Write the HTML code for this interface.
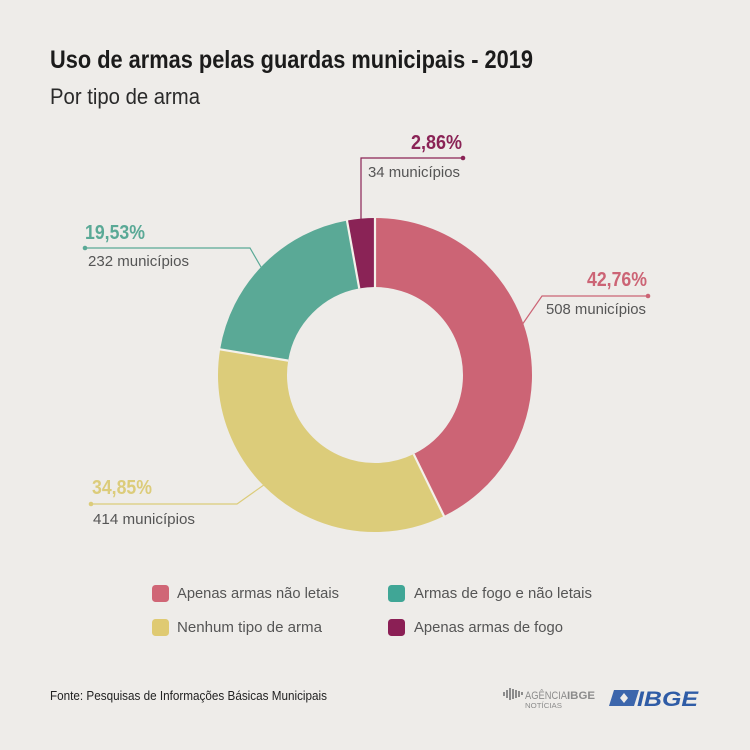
<!DOCTYPE html>
<html><head><meta charset="utf-8"><style>
html,body{margin:0;padding:0;background:#eeece9;}
svg{display:block;}
</style></head><body>
<svg width="750" height="750" viewBox="0 0 750 750" xmlns="http://www.w3.org/2000/svg">
<rect width="750" height="750" fill="#eeece9"/>
<text x="50" y="68" font-family="'Liberation Sans Narrow','Liberation Sans',sans-serif" font-weight="bold" font-size="25" fill="#1b1b1b" textLength="483" lengthAdjust="spacingAndGlyphs">Uso de armas pelas guardas municipais - 2019</text>
<text x="50" y="104" font-family="'Liberation Sans Narrow','Liberation Sans',sans-serif" font-size="22" fill="#2a2a2a" textLength="150" lengthAdjust="spacingAndGlyphs">Por tipo de arma</text>

<!-- leader lines -->
<g fill="none" stroke-width="1.2">
<polyline points="361,222 361,158 463,158" stroke="#8a2356"/>
<polyline points="515,335 542,296 648,296" stroke="#cc6475"/>
<polyline points="85,248 250,248 265,274" stroke="#5aa996"/>
<polyline points="91,504 237,504 268,482" stroke="#dccc7a"/>
</g>
<circle cx="463" cy="158" r="2.3" fill="#8a2356"/>
<circle cx="648" cy="296" r="2.3" fill="#cc6475"/>
<circle cx="85" cy="248" r="2.3" fill="#5aa996"/>
<circle cx="91" cy="504" r="2.3" fill="#dccc7a"/>

<!-- donut -->
<g transform="rotate(-90 375 375)" fill="none" stroke-width="69">
<circle cx="375" cy="375" r="122.5" stroke="#cc6475" stroke-dasharray="329.12 769.69" stroke-dashoffset="0"/>
<circle cx="375" cy="375" r="122.5" stroke="#dccc7a" stroke-dasharray="268.24 769.69" stroke-dashoffset="-329.12"/>
<circle cx="375" cy="375" r="122.5" stroke="#5aa996" stroke-dasharray="150.32 769.69" stroke-dashoffset="-597.36"/>
<circle cx="375" cy="375" r="122.5" stroke="#8a2356" stroke-dasharray="22.01 769.69" stroke-dashoffset="-747.68"/>
</g>
<g stroke="#f4f1ea" stroke-width="2.2">
<line x1="375" y1="288" x2="375" y2="217"/>
<line x1="413.67" y1="454.05" x2="444.4" y2="516.9"/>
<line x1="288.18" y1="360.63" x2="219.1" y2="349.2"/>
<line x1="359.26" y1="288.42" x2="346.8" y2="219.6"/>
</g>

<!-- labels -->
<g font-family="'Liberation Sans Narrow','Liberation Sans',sans-serif" font-weight="bold" font-size="20">
<text x="411" y="149" fill="#8a2356" textLength="51" lengthAdjust="spacingAndGlyphs">2,86%</text>
<text x="587" y="286" fill="#cc6475" textLength="60" lengthAdjust="spacingAndGlyphs">42,76%</text>
<text x="85" y="239" fill="#5aa996" textLength="60" lengthAdjust="spacingAndGlyphs">19,53%</text>
<text x="92" y="494" fill="#dccc7a" textLength="60" lengthAdjust="spacingAndGlyphs">34,85%</text>
</g>
<g font-family="'Liberation Sans',sans-serif" font-size="15" fill="#555">
<text x="368" y="177" textLength="92" lengthAdjust="spacingAndGlyphs">34 municípios</text>
<text x="546" y="314" textLength="100" lengthAdjust="spacingAndGlyphs">508 municípios</text>
<text x="88" y="266" textLength="101" lengthAdjust="spacingAndGlyphs">232 municípios</text>
<text x="93" y="524" textLength="102" lengthAdjust="spacingAndGlyphs">414 municípios</text>
</g>

<!-- legend -->
<rect x="152" y="585" width="17" height="17" rx="3.5" fill="#d06676"/>
<rect x="388" y="585" width="17" height="17" rx="3.5" fill="#40a696"/>
<rect x="152" y="619" width="17" height="17" rx="3.5" fill="#dfca72"/>
<rect x="388" y="619" width="17" height="17" rx="3.5" fill="#8b1f55"/>
<g font-family="'Liberation Sans',sans-serif" font-size="15" fill="#555">
<text x="177" y="598" textLength="162" lengthAdjust="spacingAndGlyphs">Apenas armas não letais</text>
<text x="414" y="598" textLength="178" lengthAdjust="spacingAndGlyphs">Armas de fogo e não letais</text>
<text x="177" y="632" textLength="145" lengthAdjust="spacingAndGlyphs">Nenhum tipo de arma</text>
<text x="414" y="632" textLength="149" lengthAdjust="spacingAndGlyphs">Apenas armas de fogo</text>
</g>

<!-- footer -->
<text x="50" y="700" font-family="'Liberation Sans Narrow','Liberation Sans',sans-serif" font-size="13" fill="#222" textLength="277" lengthAdjust="spacingAndGlyphs">Fonte: Pesquisas de Informações Básicas Municipais</text>

<!-- Agencia IBGE logo -->
<g fill="#8c8c8c">
<rect x="503" y="692" width="2" height="4"/>
<rect x="506" y="690" width="2" height="8"/>
<rect x="509" y="688" width="2" height="12"/>
<rect x="512" y="689" width="2" height="10"/>
<rect x="515" y="690" width="2" height="8"/>
<rect x="518" y="691" width="2" height="6"/>
<rect x="521" y="692" width="2" height="3"/>
</g>
<text x="525" y="699" font-family="'Liberation Sans Narrow','Liberation Sans',sans-serif" font-size="11" fill="#8c8c8c" textLength="42" lengthAdjust="spacingAndGlyphs">AGÊNCIA</text>
<text x="567" y="699" font-family="'Liberation Sans Narrow','Liberation Sans',sans-serif" font-weight="bold" font-size="11" fill="#8c8c8c" textLength="28" lengthAdjust="spacingAndGlyphs">IBGE</text>
<text x="525" y="708" font-family="'Liberation Sans Narrow','Liberation Sans',sans-serif" font-size="7" fill="#8c8c8c" textLength="37" lengthAdjust="spacingAndGlyphs">NOTÍCIAS</text>

<!-- IBGE logo -->
<polygon points="614,690 639,690 634,706 609,706" fill="#3c66ac"/>
<polygon points="620,698 624,693 628,698 624,703" fill="#eeece9"/>
<text x="637" y="706" font-family="'Liberation Sans',sans-serif" font-weight="bold" font-style="italic" font-size="21" fill="#2f5ca6" textLength="61" lengthAdjust="spacingAndGlyphs">IBGE</text>
</svg>
</body></html>
